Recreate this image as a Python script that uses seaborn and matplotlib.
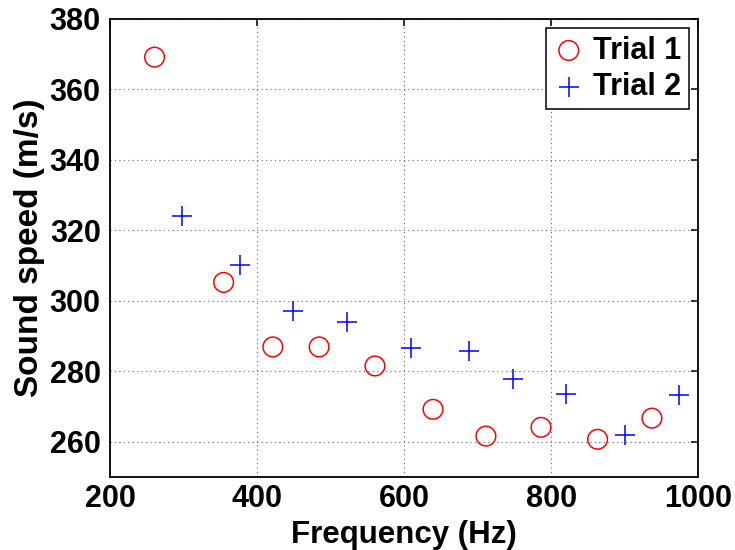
import matplotlib
matplotlib.use("Agg")
import matplotlib.pyplot as plt
import pandas as pd
import seaborn as sns

# measured values
freq_trial1 = [260, 354, 421, 484, 560, 639, 711, 786, 863, 937]
speed_trial1 = [369.1, 305.2, 286.9, 286.9, 281.5, 269.2, 261.6, 264.1, 260.7, 266.7]
freq_trial2 = [298, 376, 448, 522, 609, 688, 748, 820, 900, 974]
speed_trial2 = [324.0, 310.1, 297.1, 294.0, 286.6, 285.8, 277.8, 273.6, 262.0, 273.3]

x_ticks = [200, 400, 600, 800, 1000]
y_ticks = [260, 280, 300, 320, 340, 360, 380]

FS = 22

sns.set_style("white")
plt.rcParams["font.family"] = ["Liberation Sans", "DejaVu Sans"]
plt.rcParams["font.weight"] = "bold"
plt.rcParams["axes.labelweight"] = "bold"
for key in ["text.color", "axes.labelcolor", "xtick.color", "ytick.color"]:
    plt.rcParams[key] = "black"

df1 = pd.DataFrame({"freq": freq_trial1, "speed": speed_trial1})
df2 = pd.DataFrame({"freq": freq_trial2, "speed": speed_trial2})

fig = plt.figure(figsize=(7.35, 5.5), dpi=100)
ax = fig.add_axes([0.1503, 0.1327, 0.7997, 0.8333])

sns.scatterplot(data=df1, x="freq", y="speed", marker="o", s=200,
                facecolors="none", edgecolor="red", linewidth=1.1,
                label="Trial 1", ax=ax)
sns.scatterplot(data=df2, x="freq", y="speed", marker="+", s=220,
                color="blue", linewidth=1.1, label="Trial 2", ax=ax)

ax.set_xlim(200, 1000)
ax.set_ylim(250, 380)
ax.set_xticks(x_ticks)
ax.set_yticks(y_ticks)
ax.grid(True, linestyle=(0, (1, 3)), color="#666666", linewidth=0.8)
ax.tick_params(direction="in", length=5, width=1.1, top=True, right=True,
               labelsize=FS)
ax.tick_params(axis="y", pad=7)
ax.tick_params(axis="x", pad=5)
for lab in ax.get_xticklabels() + ax.get_yticklabels():
    lab.set_fontweight("bold")
for sp in ax.spines.values():
    sp.set_linewidth(1.3)
    sp.set_color("black")

ax.set_xlabel("Frequency (Hz)", fontsize=22.5, fontweight="bold", labelpad=4)
ax.set_ylabel("Sound speed (m/s)", fontsize=24, fontweight="bold", labelpad=3)

leg = ax.legend(loc="upper right", fontsize=FS, frameon=True, fancybox=False,
                edgecolor="black", framealpha=1, borderaxespad=0.3,
                borderpad=0.25, handlelength=1.0, handletextpad=0.3,
                labelspacing=0.2)
leg.get_frame().set_linewidth(1.1)
for t in leg.get_texts():
    t.set_fontweight("bold")

fig.savefig("out.png", dpi=100)
